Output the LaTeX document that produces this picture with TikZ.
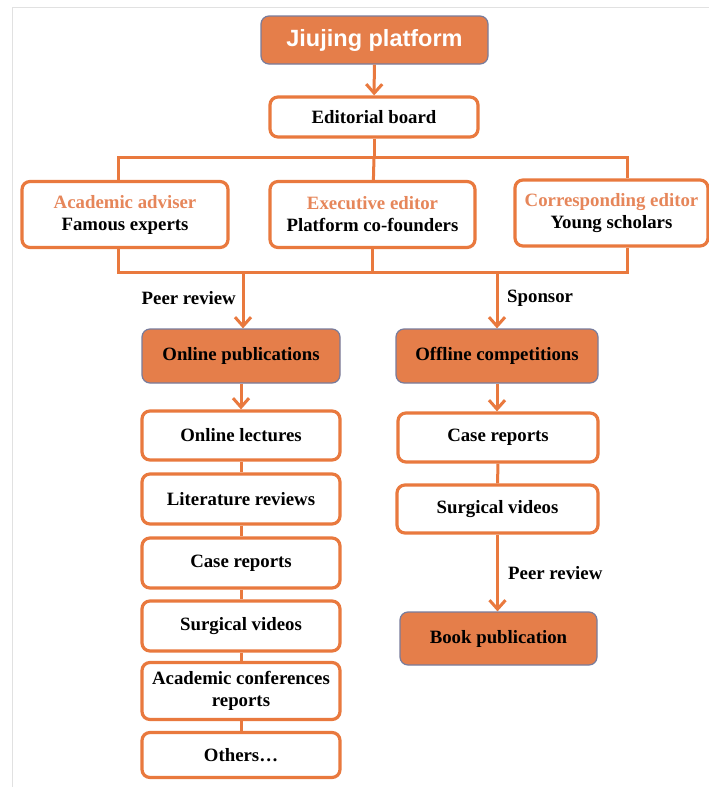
\documentclass[tikz,border=0pt]{standalone}
\usepackage{fontspec}
\setmainfont{Liberation Serif}
\newfontfamily\headfont{Liberation Sans}
\usetikzlibrary{arrows.meta}
\definecolor{oline}{RGB}{233,121,62}
\definecolor{ofill}{RGB}{229,126,74}
\definecolor{oborder}{RGB}{120,124,156}
\definecolor{ohead}{RGB}{230,134,90}
\definecolor{frame}{RGB}{225,225,225}
\tikzset{
  box/.style={draw=oline, line width=3.2pt, rounded corners=8pt, fill=white,
    align=center, inner sep=2pt, font=\fontsize{18.8}{22}\selectfont\bfseries},
  fbox/.style={draw=oborder, line width=1.2pt, rounded corners=8pt, fill=ofill,
    align=center, inner sep=2pt, font=\fontsize{18.8}{22}\selectfont\bfseries},
  conn/.style={draw=oline, line width=3pt},
  arr/.style={conn, -{Straight Barb[length=9pt,width=16pt,line width=3pt]}},
  lbl/.style={font=\fontsize{18.8}{22}\selectfont\bfseries, inner sep=0pt}
}
\begin{document}
\begin{tikzpicture}[x=1pt,y=-1pt]
\useasboundingbox (0,0) rectangle (709,787);
\fill[white] (0,0) rectangle (709,787);
\draw[frame, line width=1pt] (12,787) -- (12,7) -- (709,7);

% top
\node[fbox, minimum width=227pt, minimum height=48pt, text=white,
  font=\headfont\fontsize{23.5}{26}\selectfont\bfseries] (top) at (374.5,40) {Jiujing platform};
\node[box, minimum width=208pt, minimum height=40pt] (ed) at (374,117) {Editorial board};

% three roles
\node[box, minimum width=206pt, minimum height=66pt] (aa) at (125,214.5)
  {\textcolor{ohead}{Academic adviser}\\Famous experts};
\node[box, minimum width=205pt, minimum height=66pt] (ee) at (372.5,214.5)
  {\textcolor{ohead}{Executive editor}\\Platform co-founders};
\node[box, minimum width=193pt, minimum height=66pt] (ce) at (611.5,213)
  {\textcolor{ohead}{Corresponding editor}\\Young scholars};

% second level
\node[fbox, minimum width=198pt, minimum height=54pt] (op) at (241,356) {Online publications};
\node[fbox, minimum width=202pt, minimum height=54pt] (oc) at (497,356) {Offline competitions};

% left column
\node[box, minimum width=198pt, minimum height=49pt] (l1) at (241,435.5) {Online lectures};
\node[box, minimum width=198pt, minimum height=50pt] (l2) at (241,499) {Literature reviews};
\node[box, minimum width=198pt, minimum height=50pt] (l3) at (241,563) {Case reports};
\node[box, minimum width=198pt, minimum height=50pt] (l4) at (241,626) {Surgical videos};
\node[box, minimum width=198pt, minimum height=57pt] (l5) at (241,691) {Academic conferences\\reports};
\node[box, minimum width=198pt, minimum height=45pt] (l6) at (241,755) {Others\dots};

% right column
\node[box, minimum width=200pt, minimum height=49pt] (r1) at (498,437.5) {Case reports};
\node[box, minimum width=201pt, minimum height=48pt] (r2) at (497.5,509) {Surgical videos};
\node[fbox, minimum width=197pt, minimum height=53pt] (bp) at (498.5,638.5) {Book publication};

% bus coordinates
\coordinate (tb) at (374,157);
\coordinate (tbl) at (118,157);
\coordinate (tbr) at (627,157);
\coordinate (bbl) at (118,272);
\coordinate (bbr) at (627,272);
\coordinate (bbm) at (372.5,272);
\coordinate (bop) at (243,272);
\coordinate (boc) at (497,272);

% connectors
\draw[arr] (top) -- (ed);
\draw[conn] (ed) -- (tb);
\draw[conn] (aa.north -| tbl) -- (tbl) -- (tbr) -- (ce.north -| tbr);
\draw[conn] (tb) -- (ee);
\draw[conn] (aa.south -| bbl) -- (bbl) -- (bbr) -- (ce.south -| bbr);
\draw[conn] (ee) -- (bbm);
\draw[arr] (bop) -- (op.north -| bop);
\draw[arr] (boc) -- (oc.north -| boc);
\node[lbl, anchor=east] (pr1) at (236,298) {Peer review};
\node[lbl, anchor=west] (sp) at (507,298) {Sponsor};

\draw[arr] (op) -- (l1);
\draw[conn] (l1) -- (l2);
\draw[conn] (l2) -- (l3);
\draw[conn] (l3) -- (l4);
\draw[conn] (l4) -- (l5);
\draw[conn] (l5) -- (l6);

\draw[arr] (oc) -- (r1.north -| oc);
\draw[conn] (r1) -- (r2);
\draw[arr] (r2) -- (bp.north -| r2);
\node[lbl, anchor=west] (pr2) at (508,573) {Peer review};
\end{tikzpicture}
\end{document}
